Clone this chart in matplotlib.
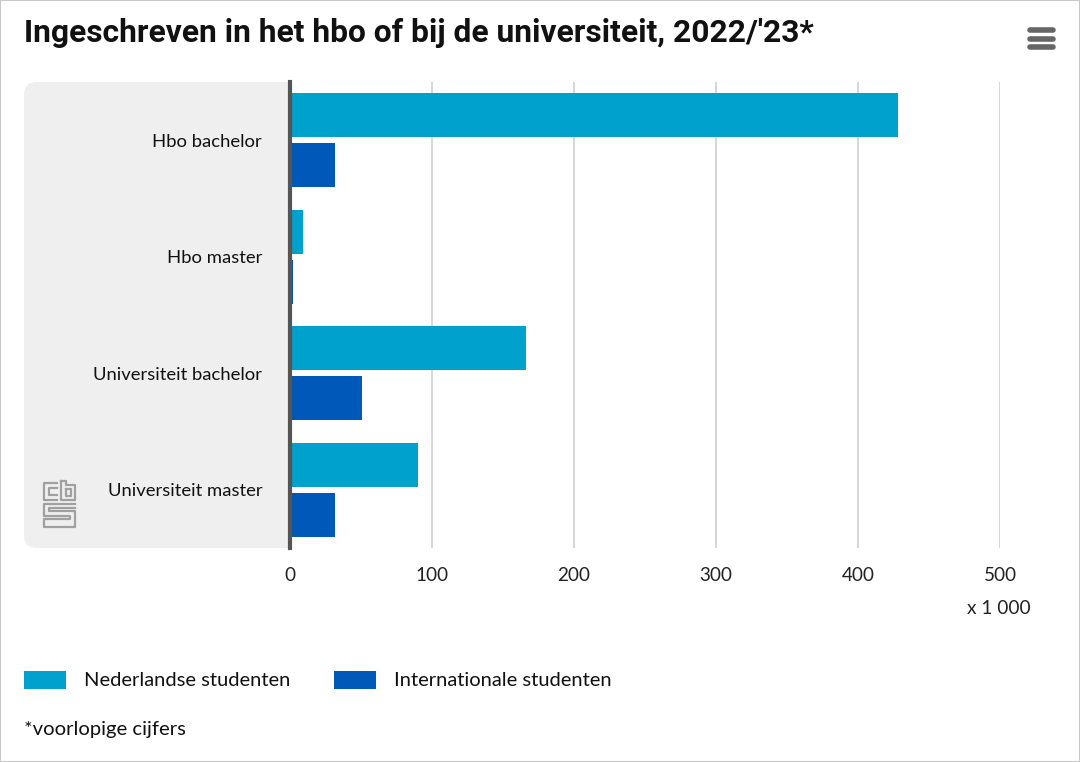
import matplotlib
matplotlib.use("Agg")
import matplotlib.pyplot as plt
from matplotlib.patches import FancyBboxPatch, Rectangle
from matplotlib.lines import Line2D
import numpy as np

categories = ["Hbo bachelor", "Hbo master", "Universiteit bachelor", "Universiteit master"]
nederlandse = [428, 9, 166, 90]
internationale = [32, 2, 51, 32]
series_names = ["Nederlandse studenten", "Internationale studenten"]
xticks = [0, 100, 200, 300, 400, 500]
title = "Ingeschreven in het hbo of bij de universiteit, 2022/'23*"
unit_label = "x 1 000"
footnote = "*voorlopige cijfers"

c_nl = "#00a1cd"
c_int = "#0058b8"
W, H = 1080, 762

plt.rcParams['font.family'] = ['Lato', 'DejaVu Sans']
fig = plt.figure(figsize=(W / 100, H / 100), dpi=100)

def fx(px):
    return px / W

def fy(py):
    return 1 - py / H

# outer border
fig.add_artist(Rectangle((0, 0), 1, 1, transform=fig.transFigure, fill=False,
                         edgecolor="#c8c8c8", linewidth=1.5))

# gray panel behind category labels
panel = FancyBboxPatch((fx(24), fy(548)), fx(290) - fx(24), fy(82) - fy(548),
                       boxstyle="round,pad=0,rounding_size=0.012",
                       transform=fig.transFigure, facecolor="#efefef",
                       edgecolor="none", zorder=0, mutation_aspect=W / H)
fig.add_artist(panel)
fig.add_artist(Rectangle((fx(260), fy(548)), fx(290) - fx(260), fy(82) - fy(548),
                         transform=fig.transFigure, facecolor="#efefef",
                         edgecolor="none", zorder=0))

ax = fig.add_axes([fx(290), fy(548), fx(1000) - fx(290), fy(82) - fy(548)])
ax.set_facecolor("none")

y = np.arange(len(categories))
h = 0.38
off = 0.215
ax.barh(y - off, nederlandse, height=h, color=c_nl, zorder=3)
ax.barh(y + off, internationale, height=h, color=c_int, zorder=3)

ax.set_xlim(0, 500)
ax.set_ylim(3.5, -0.5)
ax.set_xticks(xticks)
ax.set_xticklabels([str(t) for t in xticks], fontsize=13.6, color="#222222")
ax.set_yticks(y)
ax.set_yticklabels(categories, fontsize=13.3, color="#111111")
ax.tick_params(axis="y", length=0, pad=20)
ax.tick_params(axis="x", length=0, pad=14)
ax.grid(axis="x", color="#d0d0d0", linewidth=1.2, zorder=1)
for s in ["top", "right", "bottom"]:
    ax.spines[s].set_visible(False)
ax.spines["left"].set_color("#555555")
ax.spines["left"].set_linewidth(3)
ax.spines["left"].set_zorder(5)

# title
fig.text(fx(24), fy(33), title, fontsize=22.9, fontweight="bold", color="#111111",
         va="center", ha="left", family=["Roboto", "DejaVu Sans"])

# hamburger menu
for py in [30, 38.5, 47]:
    fig.add_artist(Line2D([fx(1030), fx(1053)], [fy(py), fy(py)], transform=fig.transFigure,
                          color="#666666", linewidth=4, solid_capstyle="round"))

# unit label
fig.text(fx(1031), fy(609), unit_label, fontsize=13.7, color="#222222", ha="right", va="center")

# legend
for (x0, name, col) in [(24, series_names[0], c_nl), (334, series_names[1], c_int)]:
    fig.add_artist(Rectangle((fx(x0), fy(689)), fx(42), fy(671) - fy(689),
                             transform=fig.transFigure, facecolor=col, edgecolor="none"))
    fig.text(fx(x0 + 60), fy(680), name, fontsize=14.5, color="#111111", ha="left", va="center")

fig.text(fx(24), fy(729), footnote, fontsize=14.6, color="#111111", ha="left", va="center")

# cbs logo (simplified line drawing)
lc = "#a0a0a0"
lw = 1.6
def seg(pts):
    xs = [fx(p[0]) for p in pts]
    ys = [fy(p[1]) for p in pts]
    fig.add_artist(Line2D(xs, ys, transform=fig.transFigure, color=lc, linewidth=lw))
# c
seg([(57, 483), (44, 483), (44, 500), (57, 500)])
seg([(57, 488), (49, 488), (49, 495), (57, 495)])
# b
seg([(61, 481), (61, 500), (75, 500), (75, 485), (66, 485), (66, 481), (61, 481)])
seg([(66, 489), (71, 489), (71, 496), (66, 496), (66, 489)])
# s
seg([(75, 504), (44, 504), (44, 516), (70, 516), (70, 519), (44, 519), (44, 527), (75, 527), (75, 511), (49, 511), (49, 508), (75, 508)])

fig.savefig("out.png", dpi=100)
